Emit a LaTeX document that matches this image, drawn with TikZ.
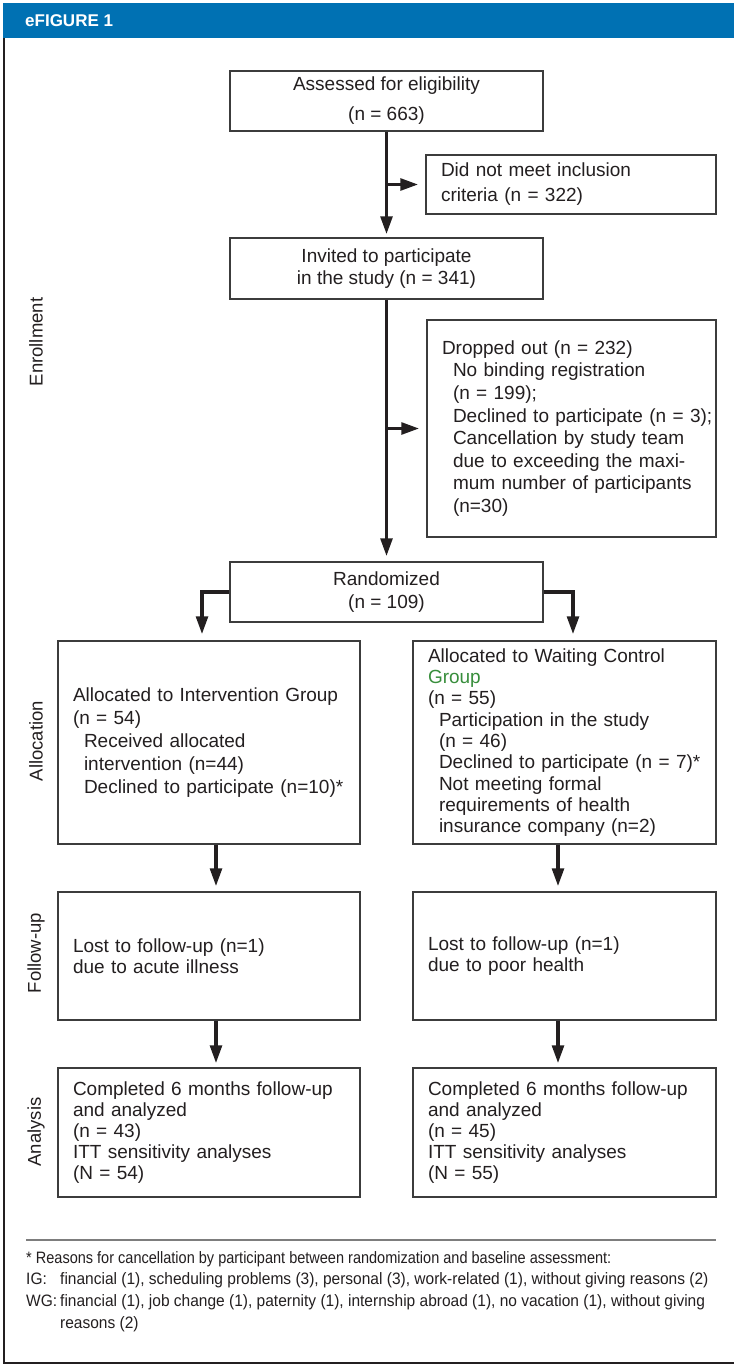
\documentclass[tikz,border=0pt]{standalone}
\usepackage{fontspec}
\setmainfont{Liberation Sans}
\newfontfamily\fnfont{Liberation Sans}[FakeStretch=0.88]
\newfontfamily\fnfontw{Liberation Sans}[FakeStretch=0.94]
\usetikzlibrary{arrows.meta}
\definecolor{hdrblue}{RGB}{0,113,179}
\definecolor{ink}{RGB}{35,31,32}
\definecolor{boxline}{RGB}{60,60,60}
\definecolor{grpgreen}{RGB}{56,142,60}
\definecolor{rulegray}{RGB}{125,125,125}
\newcommand\Lx[1]{\mbox{#1}}
\newcommand\Ix[1]{\mbox{\hspace*{11pt}#1}}
\begin{document}
\begin{tikzpicture}[x=1pt,y=-1pt,
  box/.style={draw=boxline, line width=1.2pt, text=ink, inner ysep=0pt},
  cbox/.style={box, align=center, minimum width=313pt},
  lbox/.style={box, align=left, inner xsep=15pt},
  bodyfont/.style={font=\fontsize{19}{#1}\selectfont},
  arr/.style={draw=ink, line width=3.8pt, -{Triangle[length=18pt,width=11.5pt]}},
  phase/.style={rotate=90, text=ink, font=\fontsize{18.5}{20}\selectfont, inner sep=0pt},
  fn/.style={anchor=base west, inner sep=0pt, text=ink, font=\fnfont\fontsize{16.5}{20}\selectfont},
  fnw/.style={fn, font=\fnfontw\fontsize{16.5}{20}\selectfont},
]
\useasboundingbox (0,0) rectangle (734,1367);
\fill[white] (0,0) rectangle (734,1367);
% header
\fill[hdrblue] (3,3) rectangle (734,38);
\node[anchor=base west, inner sep=0pt, text=white, font=\bfseries\fontsize{17}{20}\selectfont] (title) at (25,27) {eFIGURE 1};
% frame
\draw[ink, line width=2pt] (4,38) -- (4,1363) -- (734,1363);

% boxes
\node[cbox, bodyfont=30, minimum height=60pt] (assess) at (386.5,101) {Assessed for eligibility\\(n = 663)};
\node[lbox, bodyfont=25, text width=260pt, minimum height=59pt] (dnm) at (571,184.5) {\Lx{Did not meet inclusion}\\\Lx{criteria (n = 322)}};
\node[cbox, bodyfont=22, minimum height=61pt] (invited) at (386.5,268.5) {Invited to participate\\in the study (n = 341)};
\node[lbox, bodyfont=22.6, text width=259pt, minimum height=217pt] (drop) at (571.5,428.5) {\Lx{Dropped out (n = 232)}\\\Ix{No binding registration}\\\Ix{(n = 199);}\\\Ix{Declined to participate (n = 3);}\\\Ix{Cancellation by study team}\\\Ix{due to exceeding the maxi-}\\\Ix{mum number of participants}\\\Ix{(n=30)}};
\node[cbox, bodyfont=23, minimum height=60pt] (rand) at (386.5,592) {Randomized\\(n = 109)};

\node[lbox, bodyfont=22.8, text width=272pt, minimum height=203pt] (a1) at (209,742.5) {\Lx{Allocated to Intervention Group}\\\Lx{(n = 54)}\\\Ix{Received allocated}\\\Ix{intervention (n=44)}\\\Ix{Declined to participate (n=10)*}};
\node[lbox, bodyfont=21.3, text width=273pt, minimum height=203pt] (a2) at (564.5,742.5) {\Lx{Allocated to Waiting Control}\\\Lx{\textcolor{grpgreen}{Group}}\\\Lx{(n = 55)}\\\Ix{Participation in the study}\\\Ix{(n = 46)}\\\Ix{Declined to participate (n = 7)*}\\\Ix{Not meeting formal}\\\Ix{requirements of health}\\\Ix{insurance company (n=2)}};

\node[lbox, bodyfont=21, text width=272pt, minimum height=128pt] (f1) at (209,956) {\Lx{Lost to follow-up (n=1)}\\\Lx{due to acute illness}};
\node[lbox, bodyfont=21, text width=273pt, minimum height=128pt] (f2) at (564.5,956) {\Lx{Lost to follow-up (n=1)}\\\Lx{due to poor health}};

\node[lbox, bodyfont=21, text width=272pt, minimum height=129pt] (n1) at (209,1132.5) {\Lx{Completed 6 months follow-up}\\\Lx{and analyzed}\\\Lx{(n = 43)}\\\Lx{ITT sensitivity analyses}\\\Lx{(N = 54)}};
\node[lbox, bodyfont=21, text width=273pt, minimum height=129pt] (n2) at (564.5,1132.5) {\Lx{Completed 6 months follow-up}\\\Lx{and analyzed}\\\Lx{(n = 45)}\\\Lx{ITT sensitivity analyses}\\\Lx{(N = 55)}};

% phase labels
\node[phase] (lenr) at (36,342) {Enrollment};
\node[phase] (lalloc) at (36,741) {Allocation};
\node[phase] (lfol) at (36,953) {Follow-up};
\node[phase] (lana) at (36,1132) {Analysis};

% connectors
\draw[arr, shorten >=3pt] (assess) -- (invited);
\coordinate (j1) at (assess.south |- dnm.west);
\draw[arr, shorten >=7pt] (j1) -- (dnm.west);
\draw[arr, shorten >=5pt] (invited) -- (rand);
\coordinate (j2) at (invited.south |- drop.west);
\draw[arr, shorten >=7pt] (j2) -- (drop.west);
\draw[arr, shorten >=6pt] (rand.west) -| ([xshift=-7pt]a1.north);
\draw[arr, shorten >=6pt] (rand.east) -| ([xshift=8.5pt]a2.north);
\draw[arr, shorten >=5pt] ([xshift=7pt]a1.south) -- ([xshift=7pt]f1.north);
\draw[arr, shorten >=5pt] ([xshift=-6.5pt]a2.south) -- ([xshift=-6.5pt]f2.north);
\draw[arr, shorten >=4pt] ([xshift=7pt]f1.south) -- ([xshift=7pt]n1.north);
\draw[arr, shorten >=4pt] ([xshift=-6.5pt]f2.south) -- ([xshift=-6.5pt]n2.north);

% footnote
\draw[rulegray, line width=1.5pt] (26,1240) coordinate (sepL) -- (716,1240) coordinate (sepR);
\node[fn] (fn1) at (26,1263) {* Reasons for cancellation by participant between randomization and baseline assessment:};
\node[fnw] (fn2) at (26,1284) {\makebox[34pt][l]{IG:}financial (1), scheduling problems (3), personal (3), work-related (1), without giving reasons (2)};
\node[fnw] (fn3) at (26,1306) {\makebox[34pt][l]{WG:}financial (1), job change (1), paternity (1), internship abroad (1), no vacation (1), without giving};
\node[fnw] (fn4) at (26,1328) {\hspace*{34pt}reasons (2)};
\end{tikzpicture}
\end{document}
